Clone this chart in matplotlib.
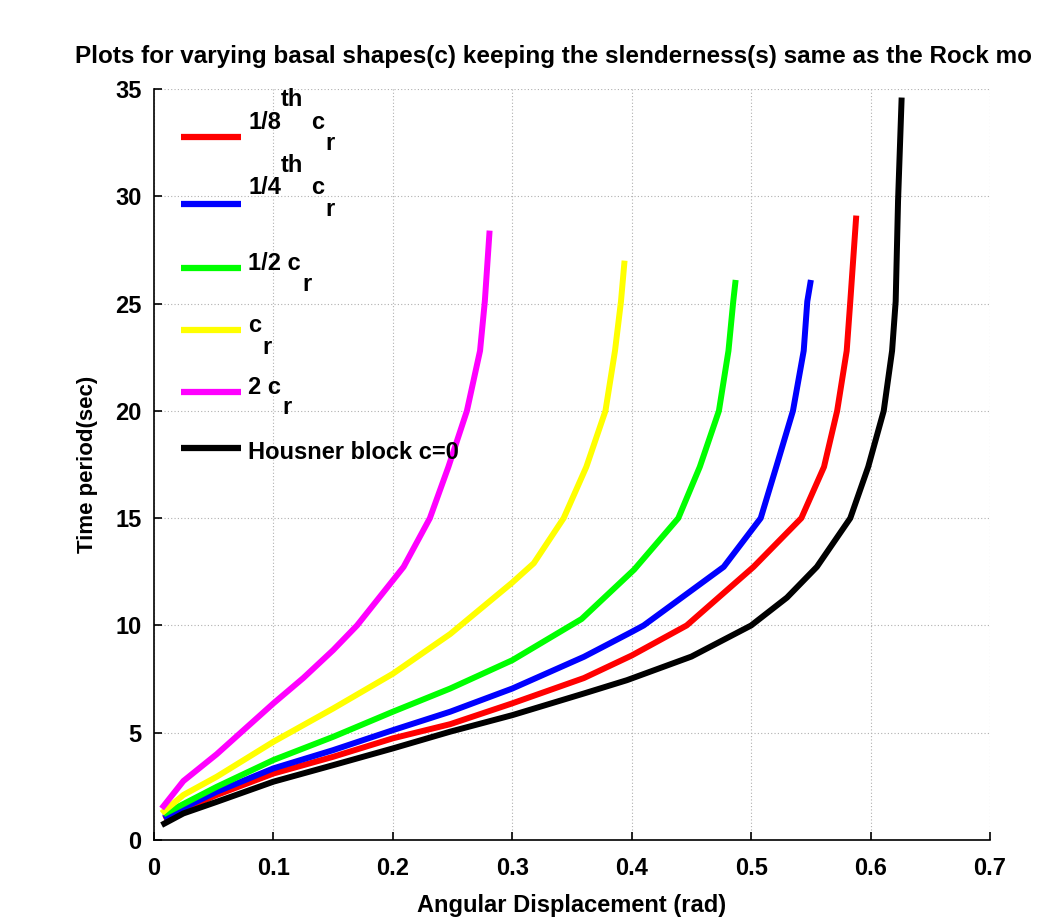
import matplotlib
matplotlib.use("Agg")
import matplotlib.pyplot as plt

plt.rcParams['font.family'] = ['Liberation Sans', 'DejaVu Sans']
plt.rcParams['font.weight'] = 'bold'

# values
x_black = [0.0064, 0.0246, 0.0525, 0.1, 0.15, 0.2, 0.248, 0.3, 0.36, 0.396, 0.45, 0.5, 0.53, 0.555, 0.583, 0.598, 0.611, 0.618, 0.621, 0.623, 0.626]
y_black = [0.7, 1.24, 1.78, 2.72, 3.49, 4.27, 5.05, 5.82, 6.83, 7.45, 8.55, 10.0, 11.3, 12.73, 15.0, 17.39, 20.0, 22.8, 25.1, 29.8, 34.6]

x_red = [0.008, 0.0525, 0.1, 0.15, 0.2, 0.248, 0.3, 0.36, 0.4, 0.446, 0.502, 0.542, 0.561, 0.572, 0.58, 0.583, 0.588]
y_red = [1.0, 2.1, 3.1, 3.88, 4.74, 5.4, 6.37, 7.55, 8.6, 10.0, 12.73, 15.0, 17.39, 20.0, 22.8, 25.1, 29.1]

x_blue = [0.008, 0.0525, 0.1, 0.15, 0.2, 0.248, 0.3, 0.36, 0.4, 0.41, 0.477, 0.508, 0.521, 0.535, 0.544, 0.547, 0.55]
y_blue = [1.05, 2.25, 3.34, 4.19, 5.12, 5.98, 7.06, 8.54, 9.7, 10.0, 12.73, 15.0, 17.39, 20.0, 22.8, 25.1, 26.1]

x_green = [0.008, 0.0525, 0.1, 0.15, 0.2, 0.248, 0.3, 0.358, 0.402, 0.439, 0.457, 0.473, 0.481, 0.485, 0.487]
y_green = [1.2, 2.48, 3.73, 4.81, 5.98, 7.06, 8.38, 10.3, 12.6, 15.0, 17.39, 20.0, 22.8, 25.1, 26.1]

x_yellow = [0.0064, 0.0246, 0.0525, 0.1, 0.15, 0.2, 0.248, 0.3, 0.318, 0.343, 0.362, 0.378, 0.386, 0.391, 0.394]
y_yellow = [1.25, 2.1, 2.95, 4.58, 6.13, 7.75, 9.6, 12.0, 12.9, 15.0, 17.39, 20.0, 22.8, 25.1, 27.0]

x_magenta = [0.0064, 0.0246, 0.0525, 0.1, 0.125, 0.15, 0.17, 0.209, 0.231, 0.2465, 0.262, 0.273, 0.277, 0.281]
y_magenta = [1.47, 2.75, 4.0, 6.37, 7.55, 8.85, 10.0, 12.73, 15.0, 17.39, 20.0, 22.8, 25.1, 28.4]

series = [
    (x_red, y_red, 'red'),
    (x_blue, y_blue, 'blue'),
    (x_green, y_green, '#00ff00'),
    (x_yellow, y_yellow, 'yellow'),
    (x_magenta, y_magenta, 'magenta'),
    (x_black, y_black, 'black'),
]

fig = plt.figure(figsize=(10.37, 9.21), dpi=100)
ax = fig.add_axes([0.1485, 0.0879, 0.8062, 0.8155])

for xs, ys, c in series:
    ax.plot(xs, ys, color=c, lw=4.3, solid_capstyle='butt', solid_joinstyle='round')

ax.set_xlim(0, 0.7)
ax.set_ylim(0, 35)
ax.set_xticks([0, 0.1, 0.2, 0.3, 0.4, 0.5, 0.6, 0.7])
ax.set_xticklabels(['0', '0.1', '0.2', '0.3', '0.4', '0.5', '0.6', '0.7'])
ax.set_yticks([0, 5, 10, 15, 20, 25, 30, 35])
ax.grid(True, color='#b0b0b0', linestyle=(0, (1, 2)), linewidth=0.8)
ax.spines['top'].set_visible(False)
ax.spines['right'].set_visible(False)
ax.spines['left'].set_linewidth(1.2)
ax.spines['bottom'].set_linewidth(1.2)
ax.tick_params(direction='in', length=6, width=1.2, labelsize=17)
ax.tick_params(axis='x', pad=12)
ax.tick_params(axis='y', pad=9)

ax.set_xlabel('Angular Displacement (rad)', fontsize=17, fontweight='bold', labelpad=10)
ax.set_ylabel('Time period(sec)', fontsize=16, fontweight='bold', labelpad=12)

# the reference title runs off the right edge, only this part is visible
fig.text(75 / 1037, 1 - 57 / 921,
         'Plots for varying basal shapes(c) keeping the slenderness(s) same as the Rock mo',
         fontsize=17.5, fontweight='bold', ha='left', va='center')

# hand-made legend mimicking the MATLAB tex layout
W, H = 1037, 921
def fx(px):
    return px / W
def fy(py):
    return 1 - py / H

legend_rows = [
    ('red', 137, [('1/8', 248, 122), ('th', 281, 99), ('c', 311, 122), ('r', 325, 143)]),
    ('blue', 204, [('1/4', 248, 188), ('th', 281, 166), ('c', 311, 188), ('r', 325, 210)]),
    ('#00ff00', 268, [('1/2 c', 248, 263), ('r', 302, 284)]),
    ('yellow', 330, [('c', 248, 325), ('r', 262, 347)]),
    ('magenta', 392, [('2 c', 248, 387), ('r', 282, 408)]),
    ('black', 448, [('Housner block c=0', 248, 452)]),
]
for c, ly, parts in legend_rows:
    fig.add_artist(plt.Line2D([fx(181), fx(241)], [fy(ly), fy(ly)], color=c, lw=4.5,
                              solid_capstyle='butt'))
    for txt, px, py in parts:
        fig.text(fx(px), fy(py), txt, fontsize=17, fontweight='bold', ha='left', va='center')

fig.savefig('out.png', dpi=100)
